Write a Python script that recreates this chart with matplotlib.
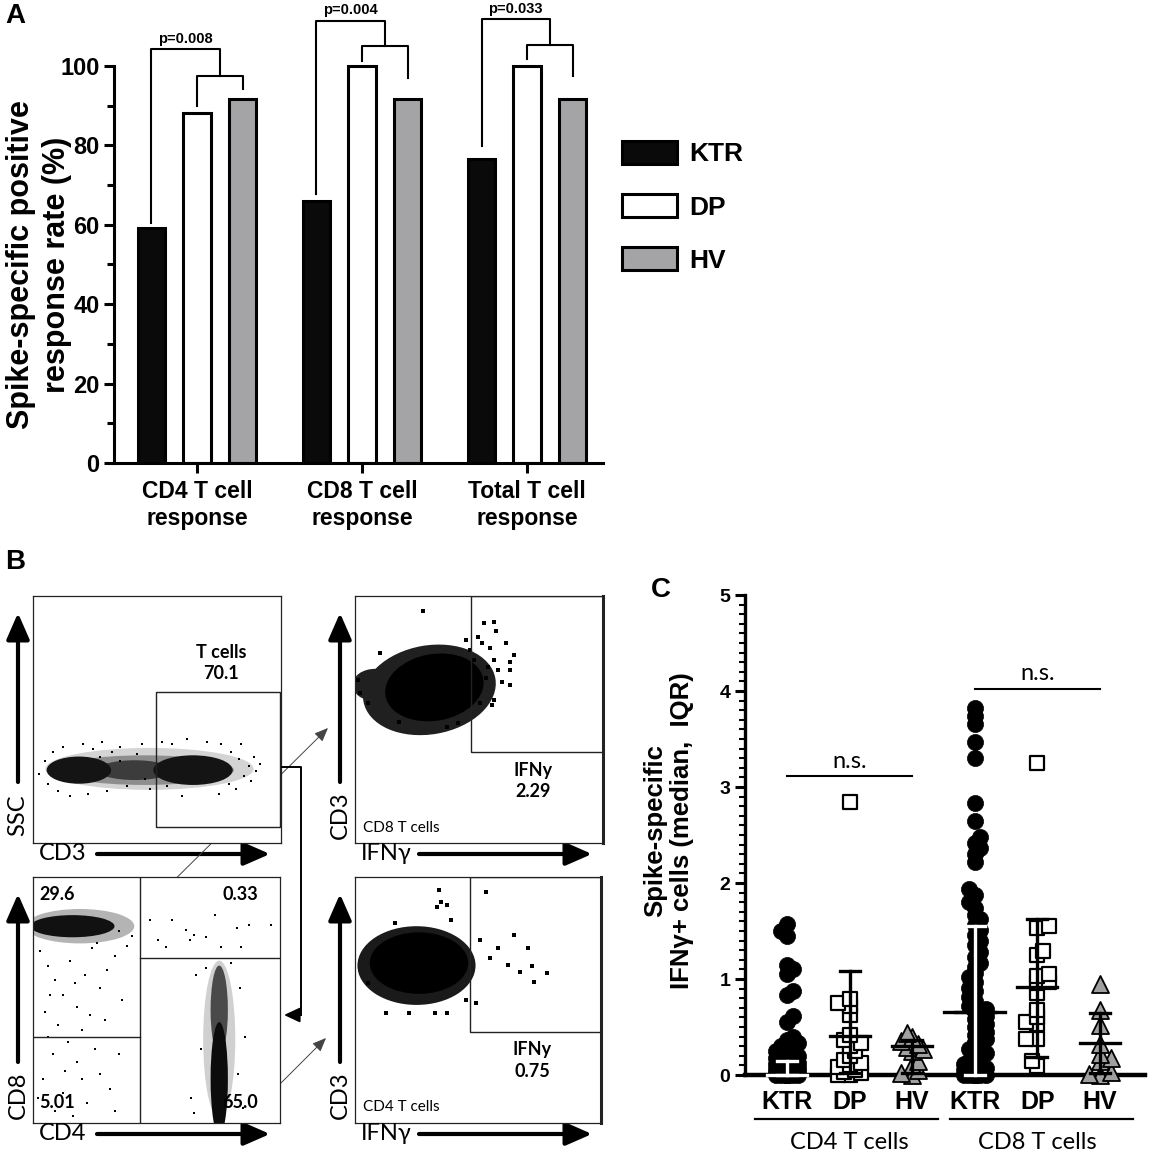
import numpy as np
import matplotlib
matplotlib.use("Agg")
import matplotlib.pyplot as plt
from matplotlib.patches import Ellipse, Rectangle
from matplotlib.ticker import FixedLocator

plt.rcParams['font.family'] = ['Liberation Sans', 'DejaVu Sans']
FLOW_FONT = ['Lato', 'DejaVu Sans']

##------------------ panel A data ----------------------##
groups = ["CD4 T cell\nresponse", "CD8 T cell\nresponse", "Total T cell\nresponse"]
ktr_rate = [59.1, 66.1, 76.6]
dp_rate = [88.1, 100.0, 100.0]
hv_rate = [91.7, 91.7, 91.7]
p_text = ["p=0.008", "p=0.004", "p=0.033"]
outer_y = [104.2, 111.4, 111.8]
inner_y = [97.5, 105.0, 105.3]
ktr_leg = [60.5, 67.7, 79.9]
dp_leg = [89.9, 101.3, 101.7]
hv_leg = [94.1, 97.0, 97.5]

##------------------ panel C data ----------------------##
c_labels = ["KTR", "DP", "HV", "KTR", "DP", "HV"]
cd4_ktr = [1.57, 1.50, 1.45, 1.15, 1.10, 1.05, 0.88, 0.83, 0.61, 0.55, 0.40, 0.36,
           0.33, 0.30, 0.28, 0.25, 0.22, 0.20, 0.18, 0.16, 0.15, 0.14, 0.12, 0.11,
           0.10, 0.09, 0.08, 0.07, 0.06, 0.05, 0.05, 0.04, 0.03, 0.02, 0.02, 0.01,
           0.01, 0, 0, 0, 0, 0, 0, 0, 0, 0, 0, 0, 0, 0, 0, 0, 0, 0, 0, 0, 0]
cd4_dp = [2.84, 0.79, 0.75, 0.72, 0.62, 0.42, 0.36, 0.33, 0.30, 0.25, 0.20, 0.16,
          0.13, 0.10, 0.08, 0.05, 0.03, 0.02, 0.0, 0.0]
cd4_hv = [0.44, 0.40, 0.35, 0.32, 0.29, 0.27, 0.25, 0.15, 0.10, 0.05, 0.02, 0.0]
cd8_ktr = [3.82, 3.74, 3.66, 3.47, 3.30, 2.83, 2.65, 2.48, 2.42, 2.36, 2.30, 2.22,
           1.94, 1.88, 1.80, 1.74, 1.67, 1.62, 1.56, 1.51, 1.46, 1.40, 1.35, 1.28,
           1.23, 1.17, 1.13, 1.06, 1.02, 0.97, 0.91, 0.87, 0.81, 0.77, 0.72, 0.69,
           0.66, 0.61, 0.58, 0.53, 0.50, 0.45, 0.42, 0.37, 0.34, 0.30, 0.27, 0.23,
           0.21, 0.17, 0.15, 0.11, 0.10, 0.07, 0.05, 0.04, 0.02, 0.01, 0, 0, 0, 0,
           0, 0, 0, 0, 0, 0, 0, 0]
cd8_dp = [3.25, 1.55, 1.53, 1.29, 1.25, 1.05, 1.03, 0.97, 0.96, 0.85, 0.68, 0.60,
          0.55, 0.53, 0.38, 0.37, 0.15, 0.09]
cd8_hv = [0.95, 0.68, 0.52, 0.32, 0.22, 0.18, 0.15, 0.03, 0.01, 0.0]
c_median = [0.0, 0.41, 0.30, 0.66, 0.92, 0.33]
c_q1 = [0.0, 0.02, 0.02, 0.0, 0.19, 0.02]
c_q3 = [0.15, 1.08, 0.36, 1.55, 1.63, 0.65]
ns_y = [3.11, 4.02]

##------------------ panel B data (0-100 plot units) ----------------------##
# gate boxes (x0, y0, x1, y1)
gate_t = (49.4, 6.5, 99.4, 61.3)
gate_cd8 = (46.8, 36.8, 100, 100)
gate_cd4 = (46.7, 37.0, 100, 100)
# clouds (cx, cy, w, h, angle, colour)
cloud_t = [(47, 30, 84, 17, 0, '#d4d4d4'), (45, 29.5, 72, 12, 0, '#8e8e8e'),
           (41, 29.5, 30, 8, 0, '#3c3c3c'),
           (18.5, 29.5, 26, 11, 0, '#141414'), (64.5, 29.5, 32, 12, 0, '#141414')]
cloud_cd8 = [(30, 62, 54, 36, 10, '#202020'), (8, 64, 18, 13, 0, '#202020'),
             (32, 63, 40, 27, 10, '#000000')]
cloud_q = [(19, 80, 44, 14, 0, '#b4b4b4'), (16, 80, 34, 9, 0, '#111111'),
           (75.4, 34, 13, 64, 0, '#d0d0d0'), (75.4, 46, 7, 36, 0, '#4a4a4a'),
           (75.4, 18, 7, 46, 0, '#0c0c0c')]
cloud_cd4 = [(25, 64, 48, 32, 0, '#1a1a1a'), (26, 65, 40, 25, 0, '#000000')]
# sparse events
pts_t = [(2.6, 28), (5, 33), (6, 24), (8, 37), (10, 21), (12, 39), (20, 40), (24, 38),
         (28, 41), (32, 37), (35, 39), (38, 23), (42, 36), (44, 40), (47, 22), (30, 21),
         (22, 20), (15, 19), (52, 41), (56, 40), (62, 42), (70, 41), (76, 40), (80, 37),
         (83, 34), (85, 27), (87, 31), (89, 35), (91.5, 32), (82, 22), (75, 20), (60, 19),
         (84, 40), (88, 25), (79, 24), (90, 29), (45, 26), (35, 33), (27, 35), (54, 23)]
pts_cd8 = [(52.1, 88.9), (56.1, 89.6), (56.9, 85.8), (44.9, 82.2), (49.7, 83.3),
           (51.3, 80.8), (46.5, 78.1), (54.5, 78.8), (60.9, 80.8), (64.1, 76.1),
           (62.5, 73.4), (56.1, 74.1), (53.7, 71.4), (57.7, 70), (62.5, 70), (48.1, 74.1),
           (52.9, 66.7), (59.3, 65.3), (62.5, 64), (55.3, 55.9), (50.5, 56.5), (56.1, 57.9),
           (44.9, 59.2), (9.9, 76.8), (27.4, 93.9), (1.1, 66), (1.9, 60.6), (5.1, 56.5),
           (17.8, 49.1), (36.9, 47.1), (41.7, 48.5), (32.2, 51.1)]
pts_q = [(3, 70), (6, 64), (9, 58), (12, 52), (15, 66), (18, 47), (21, 60), (24, 71),
         (27, 55), (30, 62), (33, 68), (36, 50), (5, 45), (10, 40), (20, 38), (25, 30),
         (14, 33), (8, 28), (29, 42), (4, 18), (12, 12), (18, 25), (22, 8), (27, 20),
         (31, 14), (35, 28), (9, 5), (16, 3), (2, 10), (6, 35), (38, 72), (40, 76),
         (26, 73), (35, 78), (20, 18), (13, 21), (33, 5), (7, 52), (17, 57), (23, 44),
         (47.4, 82.5), (56.2, 82.5), (61.8, 78.5), (65, 76.4), (69.9, 75.8), (50.6, 74.4),
         (63.5, 74.4), (82.6, 79.1), (87.4, 80.5), (96.3, 80.5), (73.8, 84.6), (76.2, 71.5),
         (84.3, 71.5), (53.8, 71.5), (66, 60), (84, 55), (68, 30), (83, 20), (64, 10),
         (86, 35), (70, 63), (80, 65), (65, 4), (85, 6)]
pts_cd4 = [(34.0, 94.7), (34.8, 90), (33.2, 87.9), (37.2, 88.6), (53.3, 94), (64.6, 76.4),
           (58.1, 71), (70.2, 71), (71.8, 63.8), (78.2, 61.1), (72.6, 57.4), (67, 61.5),
           (62.2, 64.2), (54.9, 67), (50.9, 74.4), (49.3, 48.6), (45.3, 50), (37.2, 44.6),
           (32.4, 44.6), (22, 44.6), (12.4, 44.6), (5.1, 56.8), (16.4, 81.2), (38.9, 82.5)]

W, H = 1149, 1155
fig = plt.figure(figsize=(W / 100, H / 100), dpi=100)


def rect(x0, y0, x1, y1):
    return [x0 / W, 1 - y1 / H, (x1 - x0) / W, (y1 - y0) / H]


def fpx(x, y):
    return (x, H - y)


##------------------ A ----------------------##
ax = fig.add_axes(rect(114, 2, 603, 463))
x = np.arange(len(groups))
off, bw = 0.276, 0.165
ax.bar(x - off, ktr_rate, bw, color='#0a0a0a', edgecolor='black', lw=2.2, label='KTR')
ax.bar(x, dp_rate, bw, color='white', edgecolor='black', lw=2.2, label='DP')
ax.bar(x + off, hv_rate, bw, color='#a4a4a7', edgecolor='black', lw=2.2, label='HV')
for i in range(len(groups)):
    mid = i + off / 2
    ax.plot([i - off, i - off, mid, mid], [ktr_leg[i], outer_y[i], outer_y[i], inner_y[i]],
            color='k', lw=1.5, clip_on=False)
    ax.plot([i, i, i + off, i + off], [dp_leg[i], inner_y[i], inner_y[i], hv_leg[i]],
            color='k', lw=1.5, clip_on=False)
    ax.text((i - off + mid) / 2, outer_y[i] + 0.9, p_text[i], ha='center', va='bottom',
            fontsize=10.5, fontweight='bold')
ax.set_xlim(-0.503, 2.46)
ax.set_ylim(0, 116.1)
for s in ['top', 'right']:
    ax.spines[s].set_visible(False)
for s in ['left', 'bottom']:
    ax.spines[s].set_linewidth(2.2)
ax.spines['left'].set_bounds(0, 100)
ax.set_yticks(range(0, 101, 20))
ax.set_yticks([v for v in range(10, 100, 20)], minor=True)
ax.tick_params(axis='y', which='major', length=7, width=2.2, labelsize=17)
ax.tick_params(axis='y', which='minor', length=5, width=2.2)
ax.set_xticks(x, groups, fontsize=16.5, fontweight='bold', linespacing=1.25)
ax.tick_params(axis='x', length=7, width=2.2, pad=5)
for lab in ax.get_yticklabels():
    lab.set_fontweight('bold')
ax.legend(loc='upper left', bbox_to_anchor=(622 / W, 1 - 141 / H), bbox_transform=fig.transFigure,
          frameon=False, prop={'size': 19, 'weight': 'bold'}, handlelength=2.1, handleheight=0.95,
          labelspacing=1.05, handletextpad=0.45, borderpad=0, borderaxespad=0)
fig.text(39 / W, 1 - 265 / H, "Spike-specific positive\nresponse rate (%)", rotation=90,
         ha='center', va='center', fontsize=22, fontweight='bold', linespacing=1.28)

##------------------ B ----------------------##


def flow(box, clouds, pts, gate, psize, ylab, xlab):
    a = fig.add_axes(rect(*box))
    a.set_xlim(0, 100)
    a.set_ylim(0, 100)
    a.set_xticks([])
    a.set_yticks([])
    for s in a.spines.values():
        s.set_linewidth(0.9)
        s.set_color('#222222')
    for cx, cy, w, h, ang, col in clouds:
        a.add_patch(Ellipse((cx, cy), w, h, angle=ang, facecolor=col, edgecolor='none'))
    a.scatter([p[0] for p in pts], [p[1] for p in pts], s=psize, marker='s', color='k', lw=0)
    if gate is not None:
        a.add_patch(Rectangle((gate[0], gate[1]), gate[2] - gate[0], gate[3] - gate[1],
                              fill=False, edgecolor='#222222', lw=1.0))
    x0, y0, x1, y1 = box
    arrow = dict(arrowstyle='-|>,head_length=0.8,head_width=0.35', lw=3, color='k',
                 shrinkA=0, shrinkB=0, mutation_scale=20)
    fig.axes[0].annotate('', xy=fpx(x0 - 15, y0 + 17), xytext=fpx(x0 - 15, y1 - 61),
                         xycoords='figure pixels', textcoords='figure pixels', arrowprops=arrow)
    fig.axes[0].annotate('', xy=fpx(x0 + 237, y1 + 11), xytext=fpx(x0 + 64, y1 + 11),
                         xycoords='figure pixels', textcoords='figure pixels', arrowprops=arrow)
    fig.text((x0 - 15) / W, 1 - (y1 - 28) / H, ylab, rotation=90, ha='center', va='center',
             fontsize=17, family=FLOW_FONT)
    fig.text((x0 + 6) / W, 1 - (y1 + 11) / H, xlab, ha='left', va='center',
             fontsize=17, family=FLOW_FONT)
    return a


bt = dict(fontsize=13, fontweight='bold', family=FLOW_FONT)
a1 = flow((33, 596, 281, 843), cloud_t, pts_t, gate_t, 2, "SSC", "CD3")
a1.text(76, 77.3, "T cells", ha='center', va='center', **bt)
a1.text(76, 68.8, "70.1", ha='center', va='center', **bt)

a2 = flow((355, 596, 603, 843), cloud_cd8, pts_cd8, gate_cd8, 9, "CD3", "IFNγ")
a2.spines['right'].set_linewidth(2.2)
a2.text(72, 29.5, "IFNy", ha='center', va='center', **bt)
a2.text(72, 21, "2.29", ha='center', va='center', **bt)
a2.text(3.2, 6, "CD8 T cells", ha='left', va='center', fontsize=11, family=FLOW_FONT)

a3 = flow((33, 877, 280, 1123), cloud_q, pts_q, None, 2, "CD8", "CD4")
a3.plot([43.3, 43.3], [0, 100], color='#222222', lw=1.0)
a3.plot([0, 43.3], [35, 35], color='#222222', lw=1.0)
a3.plot([43.3, 100], [67, 67], color='#222222', lw=1.0)
a3.text(2.5, 92.7, "29.6", ha='left', va='center', **bt)
a3.text(91, 92.7, "0.33", ha='right', va='center', **bt)
a3.text(2.5, 8.5, "5.01", ha='left', va='center', **bt)
a3.text(91, 8.5, "65.0", ha='right', va='center', **bt)

a4 = flow((355, 877, 601, 1123), cloud_cd4, pts_cd4, gate_cd4, 9, "CD3", "IFNγ")
a4.spines['right'].set_linewidth(2.2)
a4.text(72, 30, "IFNy", ha='center', va='center', **bt)
a4.text(72, 21, "0.75", ha='center', va='center', **bt)
a4.text(3.2, 6.5, "CD4 T cells", ha='left', va='center', fontsize=11, family=FLOW_FONT)

# gating connections
fig.axes[0].annotate('', xy=fpx(284, 1015), xytext=fpx(301, 1015), xycoords='figure pixels',
                     textcoords='figure pixels',
                     arrowprops=dict(arrowstyle='-|>,head_length=0.6,head_width=0.28', lw=1.4,
                                     color='k', shrinkA=0, shrinkB=0, mutation_scale=16))
fig.add_artist(plt.Line2D([282 / W, 301 / W, 301 / W], [1 - 767 / H, 1 - 767 / H, 1 - 1015 / H],
                          color='k', lw=1.4))
thin = dict(arrowstyle='-|>,head_length=0.6,head_width=0.25', lw=0.7, color='#444444',
            shrinkA=0, shrinkB=0, mutation_scale=14)
fig.axes[0].annotate('', xy=fpx(328, 728), xytext=fpx(141, 913), xycoords='figure pixels',
                     textcoords='figure pixels', arrowprops=thin)
fig.axes[0].annotate('', xy=fpx(326, 1038), xytext=fpx(281, 1083), xycoords='figure pixels',
                     textcoords='figure pixels', arrowprops=thin)

##------------------ C ----------------------##
axc = fig.add_axes(rect(745, 595, 1145, 1089.4))
axc.set_xlim(-0.67, 5.72)
axc.set_ylim(-0.15, 5.0)
PX_X, PX_Y = 400 / 6.39, 96.0


def swarm(vals, diam=16.0, step=0.35, kmax=2, gap=0.4):
    placed, xs = [], []
    for i, v in enumerate(vals):
        yp = v * PX_Y
        sgn = 1 if i % 2 == 0 else -1
        cands = [0.0]
        for k in range(1, kmax + 1):
            cands += [sgn * k * step * diam, -sgn * k * step * diam]
        best, bestd = cands[0], -1.0
        for c in cands:
            d = min([np.hypot(c - px, yp - py) for px, py in placed], default=1e9)
            if d >= gap * diam:
                best = c
                break
            if d > bestd:
                best, bestd = c, d
        placed.append((best, yp))
        xs.append(best / PX_X)
    return np.array(xs)


series = [cd4_ktr, cd4_dp, cd4_hv, cd8_ktr, cd8_dp, cd8_hv]
style = [dict(marker='o', s=135, facecolor='k', edgecolor='k', lw=0.5),
         dict(marker='s', s=105, facecolor='white', edgecolor='k', lw=1.6),
         dict(marker='^', s=150, facecolor='#a0a0a0', edgecolor='k', lw=1.3),
         dict(marker='o', s=135, facecolor='k', edgecolor='k', lw=0.5),
         dict(marker='s', s=105, facecolor='white', edgecolor='k', lw=1.6),
         dict(marker='^', s=150, facecolor='#a0a0a0', edgecolor='k', lw=1.3)]
for i, vals in enumerate(series):
    v = np.sort(np.array(vals, dtype=float))
    axc.scatter(i + swarm(v), v, zorder=3, clip_on=False, **style[i])

err_col = ['white', 'k', 'k', 'white', 'k', 'k']
for i in range(len(series)):
    c = err_col[i]
    medw = 0.32
    if i == 3:
        axc.plot([i - 0.49, i + 0.49], [c_median[i]] * 2, color='k', lw=2.4, zorder=4)
        medc = 'k'
    else:
        medc = c
    axc.plot([i - medw, i + medw], [c_median[i]] * 2, color=medc, lw=2.4, zorder=5)
    axc.plot([i, i], [c_q1[i], c_q3[i]], color=c, lw=2.4, zorder=5)
    for q in (c_q1[i], c_q3[i]):
        axc.plot([i - 0.16, i + 0.16], [q, q], color=c, lw=2.4, zorder=5)

for j, yv in enumerate(ns_y):
    axc.plot([3 * j, 3 * j + 2], [yv, yv], color='k', lw=1.5)
    axc.text(3 * j + 1, yv + 0.05, "n.s.", ha='center', va='bottom', fontsize=17, family=FLOW_FONT)

for s in ['top', 'right']:
    axc.spines[s].set_visible(False)
axc.spines['left'].set_linewidth(2.4)
axc.spines['left'].set_bounds(0, 5)
axc.spines['bottom'].set_position(('data', 0))
axc.spines['bottom'].set_linewidth(3.2)
axc.spines['bottom'].set_zorder(2)
axc.set_xticks([])
axc.set_yticks(range(0, 6))
axc.yaxis.set_minor_locator(FixedLocator([k / 10 for k in range(1, 50) if k % 10]))
axc.tick_params(axis='y', which='major', length=7, width=2.2, labelsize=14)
axc.tick_params(axis='y', which='minor', length=4, width=1.5)
for lab in axc.get_yticklabels():
    lab.set_fontweight('bold')
for i, name in enumerate(c_labels):
    axc.text(i, -0.28, name, ha='center', va='center', fontsize=18, fontweight='bold')
axc.plot([-0.51, 2.41], [-0.458] * 2, color='k', lw=1.6, clip_on=False)
axc.plot([2.6, 5.53], [-0.458] * 2, color='k', lw=1.6, clip_on=False)
axc.text(1, -0.70, "CD4 T cells", ha='center', va='center', fontsize=17, family=FLOW_FONT)
axc.text(4, -0.70, "CD8 T cells", ha='center', va='center', fontsize=17, family=FLOW_FONT)
fig.text(669 / W, 1 - 831 / H, "Spike-specific\nIFNγ+ cells (median,  IQR)", rotation=90,
         ha='center', va='center', fontsize=18.5, fontweight='bold', linespacing=1.15)

##------------------ panel letters ----------------------##
fig.text(5 / W, 1 - 3 / H, "A", fontsize=20, fontweight='bold', va='top')
fig.text(5 / W, 1 - 549 / H, "B", fontsize=20, fontweight='bold', va='top')
fig.text(651 / W, 1 - 577 / H, "C", fontsize=20, fontweight='bold', va='top')

fig.savefig("out.png", dpi=100)
